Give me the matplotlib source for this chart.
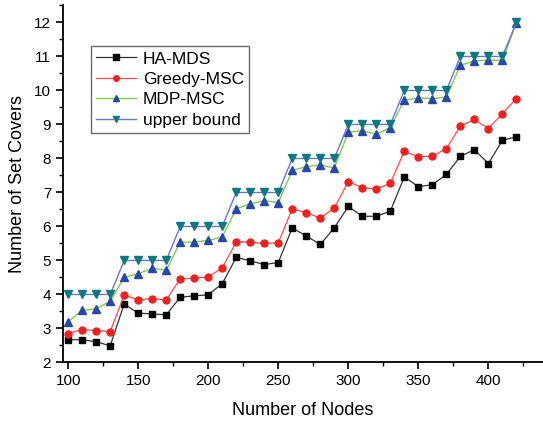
import matplotlib
matplotlib.use("Agg")
import matplotlib.pyplot as plt
import numpy as np
from matplotlib.ticker import MultipleLocator

plt.rcParams['font.family'] = ['Liberation Sans', 'DejaVu Sans']

nodes = np.arange(100, 421, 10)

ha_mds = [2.67, 2.67, 2.61, 2.49, 3.72, 3.45, 3.43, 3.40, 3.92, 3.96, 3.99,
          4.32, 5.09, 4.99, 4.88, 4.94, 5.96, 5.72, 5.47, 5.96, 6.59, 6.30,
          6.30, 6.45, 7.46, 7.17, 7.23, 7.53, 8.06, 8.26, 7.85, 8.53, 8.64]
greedy = [2.85, 2.97, 2.94, 2.91, 3.98, 3.84, 3.88, 3.84, 4.46, 4.48, 4.52,
          4.78, 5.55, 5.54, 5.50, 5.52, 6.52, 6.40, 6.25, 6.54, 7.32, 7.14,
          7.10, 7.27, 8.21, 8.05, 8.07, 8.29, 8.95, 9.15, 8.88, 9.32, 9.76]
mdp = [3.20, 3.53, 3.58, 3.80, 4.50, 4.61, 4.77, 4.71, 5.54, 5.54, 5.59,
       5.69, 6.52, 6.67, 6.76, 6.70, 7.65, 7.76, 7.81, 7.72, 8.77, 8.82,
       8.71, 8.91, 9.72, 9.78, 9.76, 9.81, 10.74, 10.87, 10.89, 10.89, 11.98]
upper = [4, 4, 4, 4, 5, 5, 5, 5, 6, 6, 6, 6, 7, 7, 7, 7, 8, 8, 8, 8,
         9, 9, 9, 9, 10, 10, 10, 10, 11, 11, 11, 11, 12]

fig = plt.figure(figsize=(5.43, 4.21), dpi=100)
ax = fig.add_axes([0.116, 0.139, 0.884, 0.848])

ax.plot(nodes, ha_mds, color='#333333', lw=0.9, marker='s', ms=4.5,
        mfc='black', mec='black', label='HA-MDS')
ax.plot(nodes, greedy, color='#ff4848', lw=0.9, marker='o', ms=5,
        mfc='#ee2020', mec='#ee2020', label='Greedy-MSC')
ax.plot(nodes, mdp, color='#80c850', lw=1.0, marker='^', ms=5.5,
        mfc='#2848a8', mec='#2848a8', label='MDP-MSC')
ax.plot(nodes, upper, color='#6878c8', lw=1.0, marker='v', ms=5.5,
        mfc='#107880', mec='#107880', label='upper bound')

ax.set_xlim(96.3, 439)
ax.set_ylim(2, 12.5)
ax.xaxis.set_major_locator(MultipleLocator(50))
ax.xaxis.set_minor_locator(MultipleLocator(25))
ax.yaxis.set_major_locator(MultipleLocator(1))
ax.yaxis.set_minor_locator(MultipleLocator(0.5))
ax.spines['top'].set_visible(False)
ax.spines['right'].set_visible(False)
ax.spines['left'].set_linewidth(1.3)
ax.spines['bottom'].set_linewidth(1.3)
ax.tick_params(which='major', direction='out', length=5, width=1.2, labelsize=11)
ax.tick_params(which='minor', direction='out', length=3, width=1.0)

ax.set_xlabel('Number of Nodes', fontsize=13, labelpad=10)
ax.set_ylabel('Number of Set Covers', fontsize=13, labelpad=6)

leg = ax.legend(loc='upper left', bbox_to_anchor=(0.058, 0.886), fontsize=12.5,
                frameon=True, fancybox=False, edgecolor='#444444',
                handlelength=2.3, borderpad=0.3, labelspacing=0.3,
                handletextpad=0.4, borderaxespad=0)
leg.get_frame().set_linewidth(1.0)
for h in leg.legend_handles:
    h.set_markersize(4)

fig.savefig('out.png', dpi=100)
